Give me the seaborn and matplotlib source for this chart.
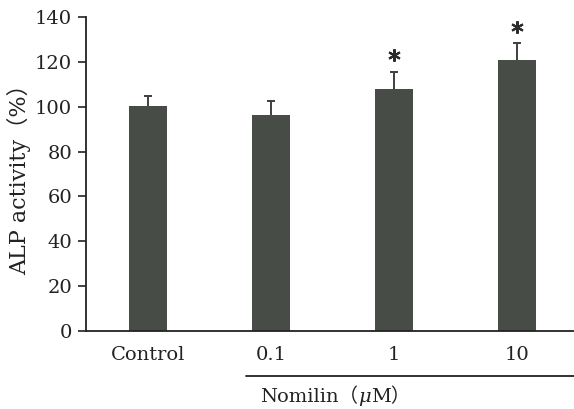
import numpy as np
import pandas as pd
import matplotlib
matplotlib.use("Agg")
import matplotlib.pyplot as plt
import seaborn as sns

# values
groups = ['Control', '0.1', '1', '10']
alp = [100.3, 96.3, 107.8, 121.0]
err = [4.5, 6.3, 7.8, 7.2]
signif = [False, False, True, True]

bar_color = '#474d46'
ink = '#222222'
fonts = ['DejaVu Serif', 'Noto Sans CJK JP']

df = pd.DataFrame({'group': groups, 'alp': alp})

sns.set_style('ticks')
plt.rcParams['font.family'] = fonts

fig = plt.figure(figsize=(5.74, 4.09), dpi=100)
ax = fig.add_axes([0.1498, 0.1907, 0.8502, 0.7677])

sns.barplot(data=df, x='group', y='alp', color=bar_color, width=0.31,
            saturation=1, linewidth=0, ax=ax)

# upper error bars only (whisker + cap)
pos = np.arange(len(groups))
tops = np.array(alp) + np.array(err)
ax.vlines(pos, alp, tops, color='#3c413b', lw=1.4)
ax.hlines(tops, pos - 0.034, pos + 0.034, color='#3c413b', lw=1.4)

# significance asterisks (six-armed)
sig_pos = pos[np.array(signif)]
sig_y = tops[np.array(signif)] + 7.5
ax.plot(sig_pos, sig_y, linestyle='none', marker=(6, 2, 0), markersize=9,
        markeredgewidth=1.5, color='#2a2d29', clip_on=False)

ax.set_ylim(0, 140)
ax.set_xlim(-0.504, 3.463)
ax.set_yticks(range(0, 141, 20))
ax.set_xlabel('')
ax.set_ylabel('ALP activity（%）', fontsize=16, color=ink)
ax.yaxis.set_label_coords(-0.112, 0.5)
ax.tick_params(axis='x', length=0, pad=11, labelsize=14, labelcolor=ink)
ax.tick_params(axis='y', length=6, width=1.2, pad=4, labelsize=14,
               labelcolor=ink, color=ink)
sns.despine(ax=ax)
for s in ['left', 'bottom']:
    ax.spines[s].set_linewidth(1.3)
    ax.spines[s].set_color(ink)

# group line under the Nomilin doses
fig.add_artist(plt.Line2D([0.4286, 1.0], [0.0807, 0.0807], color=ink, lw=1.3))
t1 = fig.text(0.453, 0.008, 'Nomilin（', fontsize=14, color=ink, va='bottom')
t2 = ax.annotate('μ', xy=(1, 0), xycoords=t1, va='bottom', fontsize=14,
                 style='italic', color=ink, annotation_clip=False)
ax.annotate('M）', xy=(1, 0), xycoords=t2, va='bottom', fontsize=14,
            color=ink, annotation_clip=False)

fig.savefig('out.png', dpi=100)
